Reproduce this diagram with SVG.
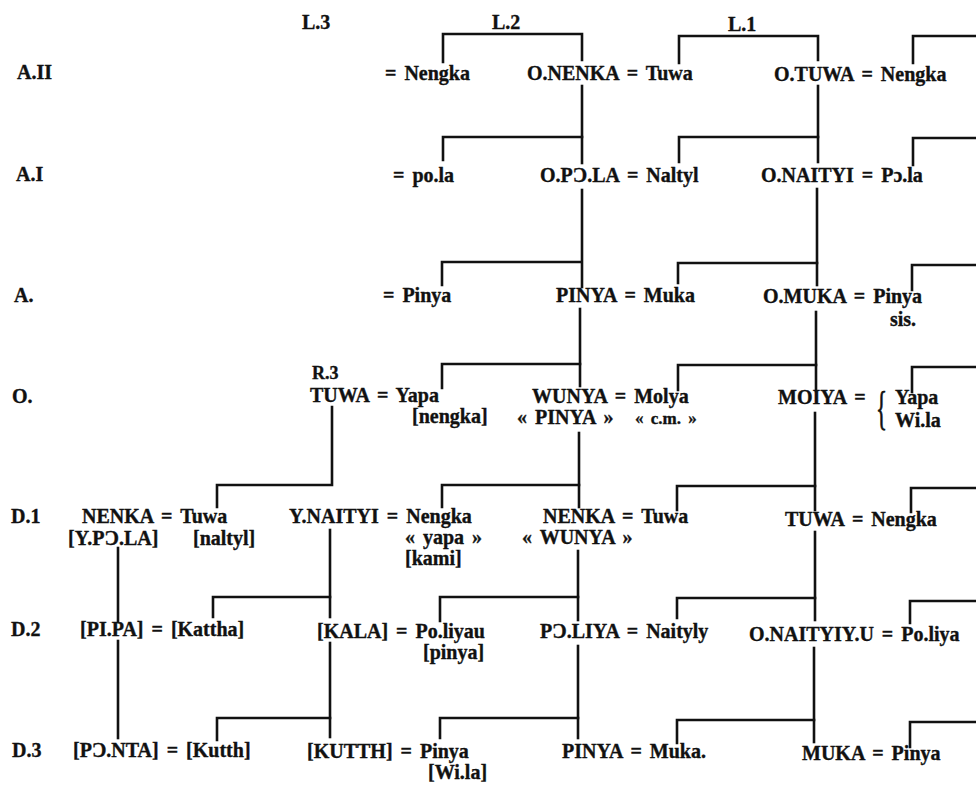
<svg xmlns="http://www.w3.org/2000/svg" width="976" height="785" viewBox="0 0 976 785">
<style>
text { font-family: "Liberation Serif", "DejaVu Serif", serif; font-weight: bold; font-size: 20px; fill: #111; stroke: #111; stroke-width: 0.35; word-spacing: 3px; }
.sm { font-size: 17px; }
.lab { font-size: 18px; }
.brace { font-weight: normal; font-size: 46px; stroke-width: 0.8; }
.c path { stroke: #111; stroke-width: 2.6; fill: none; stroke-linecap: square; stroke-linejoin: miter; }
</style>
<rect width="976" height="785" fill="#fff"/>
<g id="connectors" class="c">
<path d="M443,62 V34 H582 V60"/>
<path d="M582,86 V163"/>
<path d="M443,160 V137 H582"/>
<path d="M582,190 V287"/>
<path d="M442,285 V262 H581"/>
<path d="M580,309 V386"/>
<path d="M442,388 V364 H580"/>
<path d="M579,433 V507"/>
<path d="M442,507 V485 H579"/>
<path d="M578,551 V620"/>
<path d="M440,621 V597 H578"/>
<path d="M578,646 V738"/>
<path d="M440,738 V718 H578"/>
<path d="M679,63 V36 H818 V60"/>
<path d="M818,86 V162"/>
<path d="M679,162 V137 H818"/>
<path d="M817,189 V285"/>
<path d="M678,283 V263 H817"/>
<path d="M816,312 V391"/>
<path d="M678,390 V365 H816"/>
<path d="M815,413 V510"/>
<path d="M677,510 V486 H815"/>
<path d="M815,532 V620"/>
<path d="M677,618 V598 H815"/>
<path d="M814,648 V742"/>
<path d="M677,743 V720 H814"/>
<path d="M913,63 V36 H976"/>
<path d="M913,165 V138 H976"/>
<path d="M912,290 V265 H976"/>
<path d="M912,392 V367 H976"/>
<path d="M911,512 V488 H976"/>
<path d="M910,623 V601 H976"/>
<path d="M910,747 V722 H976"/>
<path d="M332,407 V485 H217 V507"/>
<path d="M330,530 V617"/>
<path d="M213,617 V597 H330"/>
<path d="M330,643 V737"/>
<path d="M217,740 V718 H330"/>
<path d="M118,548 V621"/>
<path d="M118,641 V738"/>
</g>
<g id="headers">
<text x="302" y="29">L.3</text>
<text x="492" y="29">L.2</text>
<text x="728" y="31">L.1</text>
</g>
<g id="rows">
<text x="17" y="79">A.II</text>
<text x="16" y="181">A.I</text>
<text x="14" y="302">A.</text>
<text x="12" y="403">O.</text>
<text x="11" y="523">D.1</text>
<text x="11" y="636">D.2</text>
<text x="12" y="757">D.3</text>
</g>
<g id="a2-l3"><text x="385" y="80">= Nengka</text></g>
<g id="a2-l2"><text x="527" y="80">O.NENKA = Tuwa</text></g>
<g id="a2-l1"><text x="774" y="81">O.TUWA = Nengka</text></g>
<g id="a1-l3"><text x="393" y="182">= po.la</text></g>
<g id="a1-l2"><text x="540" y="182">O.PƆ.LA = Naltyl</text></g>
<g id="a1-l1"><text x="761" y="182">O.NAITYI = Pɔ.la</text></g>
<g id="a-l3"><text x="383" y="302">= Pinya</text></g>
<g id="a-l2"><text x="556" y="302">PINYA = Muka</text></g>
<g id="a-l1"><text x="763" y="303">O.MUKA = Pinya</text><text x="890" y="326">sis.</text></g>
<g id="o-r3"><text class="lab" x="312" y="379">R.3</text><text x="310" y="402">TUWA = Yapa</text><text x="412" y="423">[nengka]</text></g>
<g id="o-l2"><text x="532" y="403">WUNYA = Molya</text><text x="517" y="424">« PINYA »</text><text class="sm" x="635" y="424">« c.m. »</text></g>
<g id="o-l1"><text x="778" y="404">MOIYA =</text><text class="brace" transform="translate(876,424) scale(0.5,1)">{</text><text x="895" y="404">Yapa</text><text x="895" y="427">Wi.la</text></g>
<g id="d1-a"><text x="82" y="523">NENKA = Tuwa</text><text x="68" y="545">[Y.PƆ.LA]</text><text x="193" y="545">[naltyl]</text></g>
<g id="d1-b"><text x="289" y="523">Y.NAITYI = Nengka</text><text x="405" y="544">« yapa »</text><text x="405" y="565">[kami]</text></g>
<g id="d1-c"><text x="543" y="523">NENKA = Tuwa</text><text x="522" y="544">« WUNYA »</text></g>
<g id="d1-d"><text x="785" y="526">TUWA = Nengka</text></g>
<g id="d2-a"><text x="80" y="636">[PI.PA] = [Kattha]</text></g>
<g id="d2-b"><text x="317" y="638">[KALA] = Po.liyau</text><text x="423" y="659">[pinya]</text></g>
<g id="d2-c"><text x="540" y="638">PƆ.LIYA = Naityly</text></g>
<g id="d2-d"><text x="749" y="641">O.NAITYIY.U = Po.liya</text></g>
<g id="d3-a"><text x="73" y="757">[PƆ.NTA] = [Kutth]</text></g>
<g id="d3-b"><text x="307" y="758">[KUTTH] = Pinya</text><text x="428" y="779">[Wi.la]</text></g>
<g id="d3-c"><text x="562" y="758">PINYA = Muka.</text></g>
<g id="d3-d"><text x="802" y="760">MUKA = Pinya</text></g>
</svg>
